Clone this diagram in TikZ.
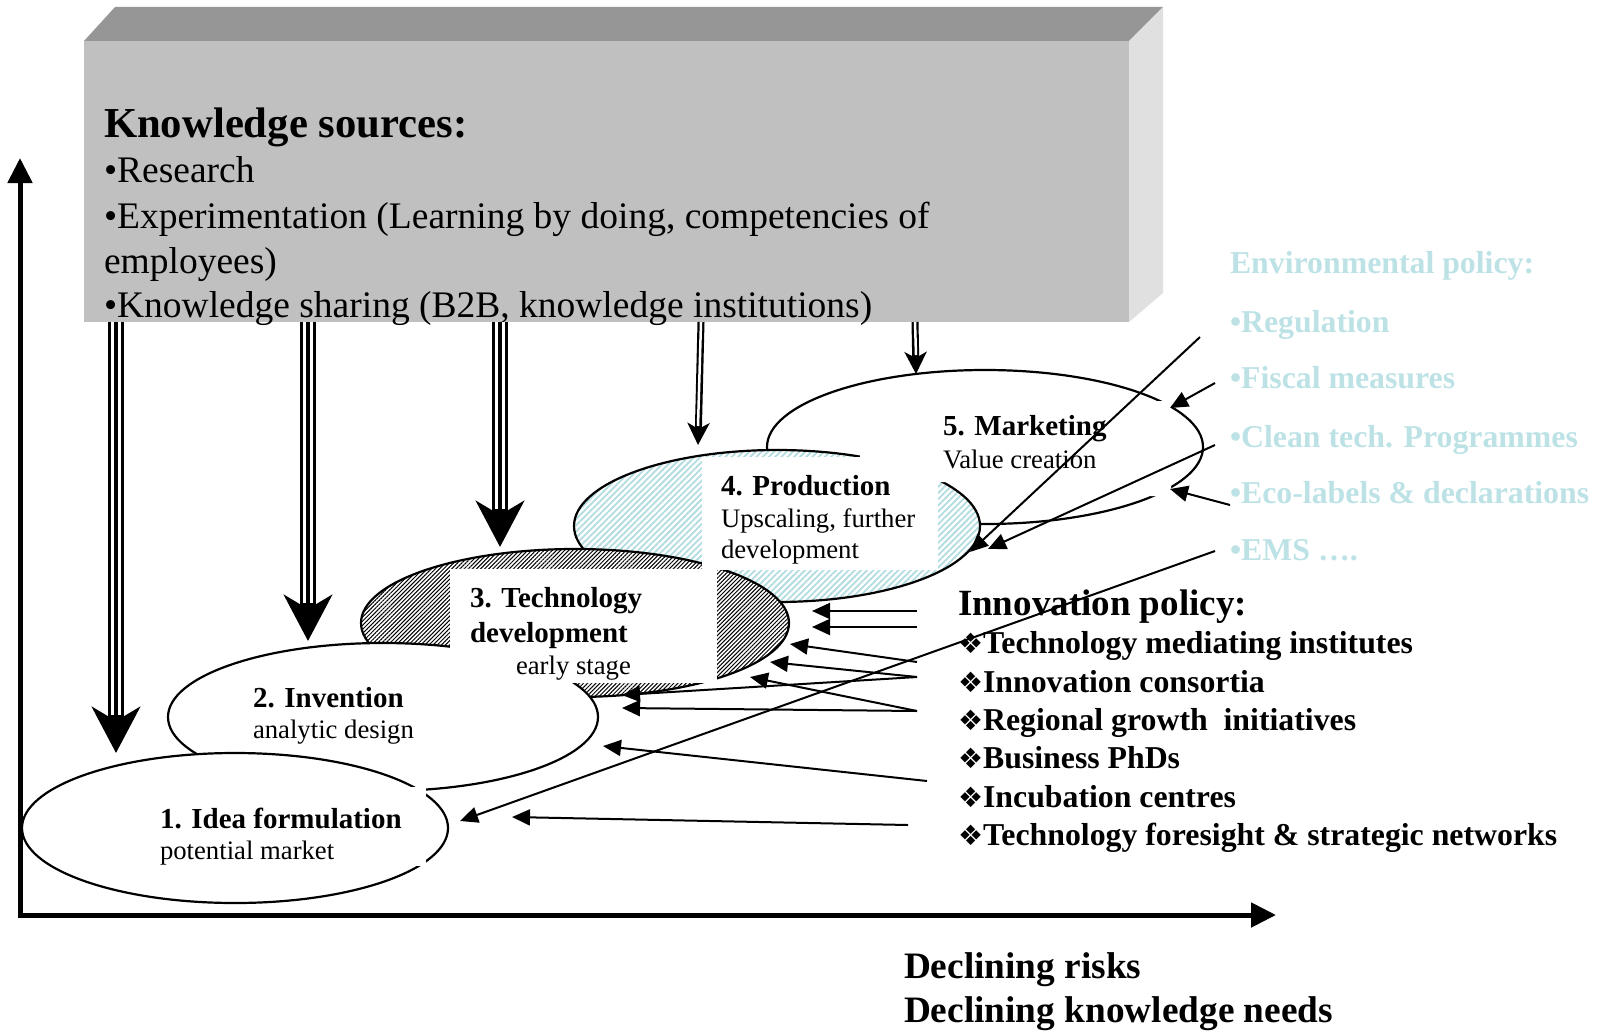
\documentclass[tikz,border=0pt]{standalone}
\usepackage{fontspec}
\setmainfont{Liberation Serif}
\newfontfamily\dingfont{DejaVu Sans}
\usetikzlibrary{arrows.meta,shapes.geometric,patterns.meta,calc}
\definecolor{ksfront}{HTML}{C0C0C0}
\definecolor{kstop}{HTML}{969696}
\definecolor{ksside}{HTML}{E0E0E0}
\definecolor{envtext}{HTML}{BDE2E6}
\definecolor{prodhatch}{HTML}{B2DCE0}
\newcommand{\fsz}[2]{\fontsize{#1}{#2}\selectfont}
\newcommand{\dingsym}{{\dingfont\fsz{28}{28}❖}}

\begin{document}
\begin{tikzpicture}[x=1pt,y=-1pt,
  stage/.style={ellipse, draw, line width=2.2pt, inner sep=0pt, outer sep=0pt},
  lbl/.style={anchor=base west, inner sep=0pt, outer sep=0pt},
  kshead/.style={lbl, font=\bfseries\fsz{42.7}{50}},
  ksitem/.style={lbl, font=\fsz{37.5}{45}},
  stagehead/.style={lbl, font=\bfseries\fsz{29}{34}},
  stagesub/.style={lbl, font=\fsz{26.7}{32}},
  polhead/.style={lbl, font=\bfseries\fsz{37}{44}},
  politem/.style={lbl, font=\bfseries\fsz{31.8}{38}},
  envitem/.style={lbl, font=\bfseries\fsz{31.8}{38}, text=envtext},
  axisnote/.style={lbl, font=\bfseries\fsz{37.3}{46}},
  triple/.style={line width=16pt, -{Stealth[length=46pt,width=48pt,inset=14pt]}},
  double/.style={line width=7pt, -{Stealth[length=22pt,width=22pt,inset=6pt]}},
  stripe/.style={white, line width=2.5pt},
  pol/.style={line width=2pt, -{Triangle[length=18pt,width=16pt]}},
]
\useasboundingbox (0,0) rectangle (1600,1033);

% ---- knowledge sources block (3-D slab) ----
\fill[kstop] (84,41) -- (115,7) -- (1163,7) -- (1129,41) -- cycle;
\fill[ksside] (1129,41) -- (1163,7) -- (1163,293) -- (1129,322) -- cycle;
\node[fill=ksfront, minimum width=1045pt, minimum height=281pt, inner sep=0pt,
      outer sep=0pt, anchor=north west] (ks) at (84,41) {};
\node[kshead] (kstitle) at (104,137) {Knowledge sources:};
\node[ksitem] (ksa) at (104,182) {•Research};
\node[ksitem] (ksb) at (104,228) {•Experimentation (Learning by doing, competencies of};
\node[ksitem] (ksc) at (104,273) {employees)};
\node[ksitem] (ksd) at (104,317) {•Knowledge sharing (B2B, knowledge institutions)};

% ---- innovation stages, back to front ----
\node[stage, fill=white, minimum width=436pt, minimum height=154pt] (e5) at (985,447) {};
\node[stage, preaction={fill=white},
      pattern={Lines[angle=45,distance=4.4pt,line width=1.8pt]}, pattern color=prodhatch,
      minimum width=406pt, minimum height=152pt] (e4) at (777,526) {};
\node[stage, preaction={fill=white},
      pattern={Lines[angle=45,distance=2.9pt,line width=1.0pt]}, pattern color=black,
      minimum width=428pt, minimum height=148pt] (e3) at (575,623) {};
\node[stage, fill=white, minimum width=430pt, minimum height=148pt] (e2) at (383,717) {};
\node[stage, fill=white, minimum width=426pt, minimum height=150pt] (e1) at (235,828) {};

% white text frames over the stages
\fill[white] (860,401) rectangle (1171,482) (1150,482) rectangle (1171,496);
\fill[white] (702,457) rectangle (938,570);
\fill[white] (450,569) rectangle (717,683);
\fill[white] (150,787) rectangle (426,866);

\node[stagehead] (s5a) at (943,435) {5. Marketing};
\node[stagesub]  (s5b) at (943,468) {Value creation};
\node[stagehead] (s4a) at (721,495) {4. Production};
\node[stagesub]  (s4b) at (721,527) {Upscaling, further};
\node[stagesub]  (s4c) at (721,558) {development};
\node[stagehead] (s3a) at (470,607) {3. Technology};
\node[stagehead] (s3b) at (470,642) {development};
\node[stagesub]  (s3c) at (516,674) {early stage};
\node[stagehead] (s2a) at (253,707) {2. Invention};
\node[stagesub]  (s2b) at (253,738) {analytic design};
\node[stagehead] (s1a) at (160,828) {1. Idea formulation};
\node[stagesub]  (s1b) at (160,859) {potential market};

% ---- knowledge flows from the block to the stages ----
\coordinate (k1) at (116,322); \coordinate (k1t) at (116,753);
\coordinate (k2) at (308,322); \coordinate (k2t) at (308,641);
\coordinate (k3) at (500,322); \coordinate (k3t) at (500,547);
\coordinate (k4) at (701,322); \coordinate (k4t) at (698,445);
\coordinate (k5) at (915,322); \coordinate (k5t) at (916,374);
\foreach \s in {1,2,3}{
  \draw[triple] (k\s) -- (k\s t);
  \draw[stripe] ([xshift=-3.5pt]k\s) -- ($([xshift=-3.5pt]k\s t)+(0,-38)$);
  \draw[stripe] ([xshift=3.5pt]k\s) -- ($([xshift=3.5pt]k\s t)+(0,-38)$);
}
\foreach \s in {4,5}{
  \draw[double] (k\s) -- (k\s t);
  \draw[stripe] (k\s) -- ($(k\s t)+(0,-19)$);
}

% ---- axes ----
\coordinate (ytip) at (20,158);
\coordinate (org) at (20,915);
\coordinate (xtip) at (1276,915);
\draw[line width=5pt, line join=miter,
      {Triangle[length=25pt,width=24pt]}-{Triangle[length=25pt,width=24pt]}]
      (ytip) -- (org) -- (xtip);
\node[axisnote] (dr) at (904,978) {Declining risks};
\node[axisnote] (dk) at (904,1022) {Declining knowledge needs};

% ---- innovation policy ----
\node[polhead] (ip) at (958,615) {Innovation policy:};
\node[politem] (ip1) at (958,653) {\dingsym Technology mediating institutes};
\node[politem] (ip2) at (958,692) {\dingsym Innovation consortia};
\node[politem] (ip3) at (958,730) {\dingsym Regional growth\ \ initiatives};
\node[politem] (ip4) at (958,768) {\dingsym Business PhDs};
\node[politem] (ip5) at (958,807) {\dingsym Incubation centres};
\node[politem] (ip6) at (958,845) {\dingsym Technology foresight \& strategic networks};

% ---- environmental policy ----
\node[envitem] (ep) at (1230,273) {Environmental policy:};
\node[envitem] (ep1) at (1230,332) {•Regulation};
\node[envitem] (ep2) at (1230,388) {•Fiscal measures};
\node[envitem] (ep3) at (1230,447) {•Clean tech. Programmes};
\node[envitem] (ep4) at (1230,503) {•Eco-labels \& declarations};
\node[envitem] (ep5) at (1230,560) {•EMS ….};

% ---- policy arrows ----
\coordinate (p1) at (917,611); \coordinate (p1t) at (812,611);
\coordinate (p2) at (917,627); \coordinate (p2t) at (812,627);
\coordinate (p3) at (917,662); \coordinate (p3t) at (790,644);
\coordinate (p4) at (917,677); \coordinate (p4t) at (770,662); \coordinate (p4u) at (622,695);
\coordinate (p5) at (917,711); \coordinate (p5t) at (750,677); \coordinate (p5u) at (622,708);
\coordinate (p6) at (927,781); \coordinate (p6t) at (603,746);
\coordinate (p7) at (908,825); \coordinate (p7t) at (512,817);
\draw[pol] (p1) -- (p1t);
\draw[pol] (p2) -- (p2t);
\draw[pol] (p3) -- (p3t);
\draw[pol] (p4) -- (p4t);
\draw[pol] (p4) -- (p4u);
\draw[pol] (p5) -- (p5t);
\draw[pol] (p5) -- (p5u);
\draw[pol] (p6) -- (p6t);
\draw[pol] (p7) -- (p7t);

\coordinate (q1) at (1200,337); \coordinate (q1t) at (970,552);
\coordinate (q2) at (1215,383); \coordinate (q2t) at (1170,408);
\coordinate (q3) at (1215,445); \coordinate (q3t) at (988,549);
\coordinate (q4) at (1230,505); \coordinate (q4t) at (1170,489);
\coordinate (q5) at (1215,551); \coordinate (q5t) at (460,821);
\draw[pol] (q1) -- (q1t);
\draw[pol] (q2) -- (q2t);
\draw[pol] (q3) -- (q3t);
\draw[pol] (q4) -- (q4t);
\draw[pol] (q5) -- (q5t);
\end{tikzpicture}
\end{document}
